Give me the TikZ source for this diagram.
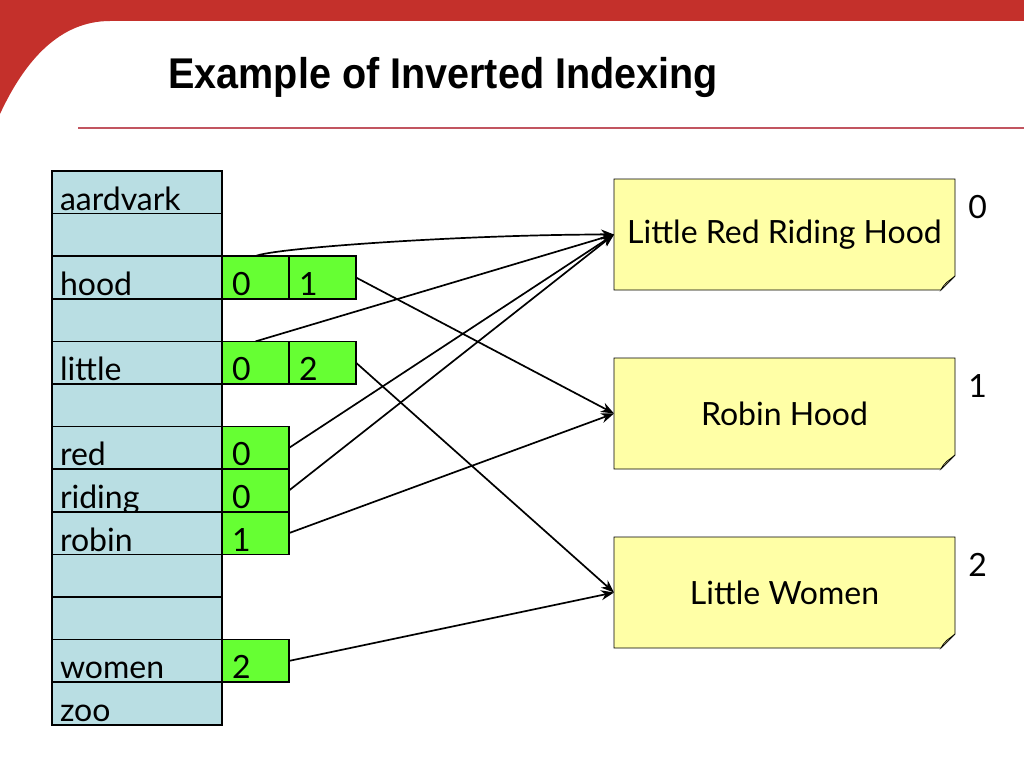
\documentclass[tikz,border=0pt]{standalone}
\usepackage{fontspec}
\setmainfont{Lato}
\newfontfamily\titlefont[FakeStretch=0.92]{Liberation Sans}
\usetikzlibrary{positioning,arrows.meta,backgrounds}
\definecolor{slidered}{HTML}{C4302B}
\definecolor{rulered}{HTML}{C25560}
\definecolor{wordblue}{HTML}{B9DEE3}
\definecolor{postgreen}{HTML}{66FF33}
\definecolor{noteyellow}{HTML}{FFFFA6}
\definecolor{notefold}{HTML}{D8D08C}

\begin{document}
\begin{tikzpicture}[x=1pt, y=-1pt,
  every node/.style={font=\fontsize{32}{34}\selectfont, outer sep=0pt},
  word/.style={draw, line width=1.6pt, fill=wordblue, anchor=north west, minimum height=42.6pt,
    text width=154pt, inner xsep=8pt, inner ysep=0pt, text height=36pt, text depth=0pt, align=left},
  post/.style={draw, line width=1.6pt, fill=postgreen, minimum height=42.6pt,
    text width=47pt, inner xsep=10pt, inner ysep=0pt, text height=36pt, text depth=0pt, align=left,
    right=0pt of #1},
  doc/.style={minimum width=341pt, minimum height=111pt},
  docid/.style={anchor=base west},
  link/.style={line width=1.7pt, -{Stealth[length=13pt, width=10pt]}}
]
\useasboundingbox (0,0) rectangle (1024,768);

% slide header
\fill[slidered] (0,0) -- (1024,0) -- (1024,21) -- (110,21)
  .. controls (60,21) and (25,60) .. (0,114) -- cycle;
\draw[rulered, line width=2pt] (78,128) -- (1024,128);
\node[anchor=base west, font=\titlefont\bfseries\fontsize{43}{46}\selectfont] (title) at (165,88)
  {Example of Inverted Indexing};

% word list
\foreach \w [count=\i from 0] in {aardvark,{},hood,{},little,{},red,riding,robin,{},{},women,zoo}
  \node[word] (w\i) at (52,171+42.6*\i) {\w};

% postings
\node[post=w2] (hood0) {0};
\node[post=hood0] (hood1) {1};
\node[post=w4] (little0) {0};
\node[post=little0] (little2) {2};
\node[post=w6] (red0) {0};
\node[post=w7] (riding0) {0};
\node[post=w8] (robin1) {1};
\node[post=w11] (women2) {2};

% documents
\node[doc, anchor=north west] (doc0) at (614,179) {Little Red Riding Hood};
\node[doc, below=68pt of doc0] (doc1) {Robin Hood};
\node[doc, below=68pt of doc1] (doc2) {Little Women};
\foreach \d in {0,1,2}
  \node[docid] (id\d) at ([xshift=10pt, yshift=-39pt]doc\d.north east) {\d};

\begin{scope}[on background layer]
  \foreach \d in {doc0,doc1,doc2} {
    \filldraw[fill=noteyellow, line width=0.8pt] (\d.north west) -- (\d.north east)
      -- ([yshift=14pt]\d.south east) -- ([xshift=-14pt]\d.south east) -- (\d.south west) -- cycle;
    \filldraw[fill=notefold, line width=0.6pt] ([yshift=14pt]\d.south east)
      .. controls ([xshift=-6pt, yshift=9pt]\d.south east) and ([xshift=-10pt, yshift=8pt]\d.south east)
      .. ([xshift=-14pt]\d.south east) -- cycle;
  }
\end{scope}

% links
\draw[link] (hood0.north) .. controls +(15,-8) and +(-150,0) .. (doc0.west);
\draw[link] (little0.north) -- (doc0.west);
\draw[link] (red0.east) -- (doc0.west);
\draw[link] (riding0.east) -- (doc0.west);
\draw[link] (hood1.east) -- (doc1.west);
\draw[link] (robin1.east) -- (doc1.west);
\draw[link] (little2.east) -- (doc2.west);
\draw[link] (women2.east) -- (doc2.west);
\end{tikzpicture}
\end{document}
